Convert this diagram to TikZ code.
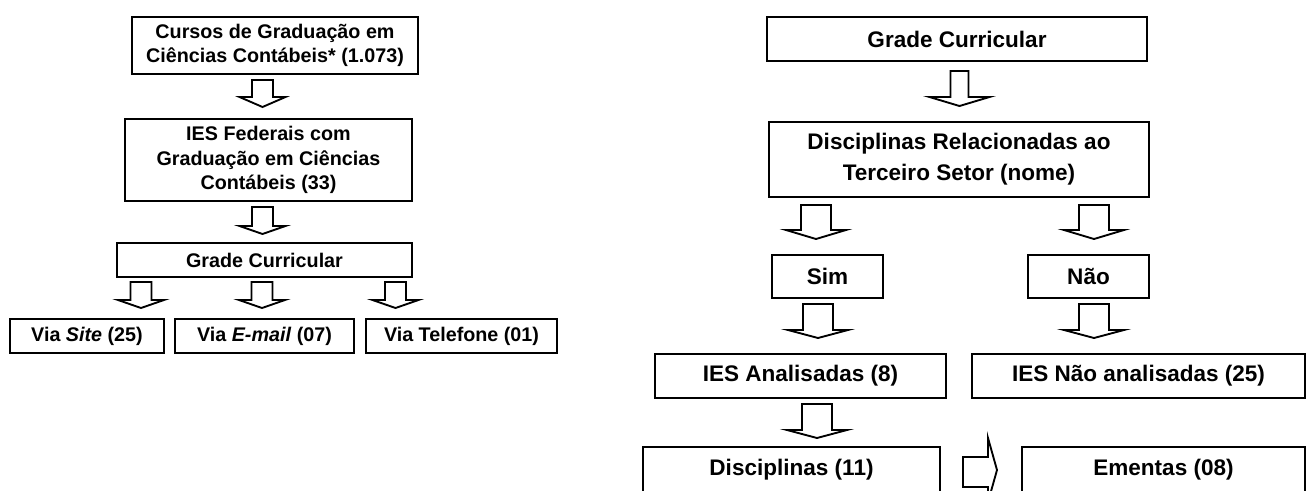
\documentclass[tikz,border=0pt]{standalone}
\usepackage{fontspec}
\setmainfont{Liberation Sans}
\newcommand\bx[7][box]{\node[#1,minimum width={(#5-#3)*0.75pt},minimum height={(#6-#4)*0.75pt}] (#2) at ({(#3+#5)/2},{(#4+#6)/2}) {#7};}
\newcommand\darr[6]{\draw[barrow] ({#1-#5},#2) -- ({#1+#5},#2) -- ({#1+#5},#3) -- ({#1+#6},#3) -- (#1,#4) -- ({#1-#6},#3) -- ({#1-#5},#3) -- cycle;}
\begin{document}
\begin{tikzpicture}[x=0.75pt,y=-0.75pt,
  box/.style={draw=black,line width=1.4pt,inner sep=0pt,align=center,font=\bfseries\fontsize{14.8}{18.5}\selectfont},
  rbox/.style={box,font=\bfseries\fontsize{16.9}{23}\selectfont},
  barrow/.style={draw=black,line width=1.4pt,fill=white,line join=miter}]
\clip (0,0) rectangle (1309,490);
\fill[white] (0,0) rectangle (1309,490);
% left diagram
\bx{A}{132}{17}{418}{74}{Cursos de Graduação em\\Ciências Contábeis* (1.073)}
\bx{B}{125}{119}{412}{201}{IES Federais com\\Graduação em Ciências\\Contábeis (33)}
\bx{C}{117}{243}{412}{277}{Grade Curricular}
\bx{V1}{10}{319}{164}{353}{Via \textit{Site} (25)}
\bx{V2}{175}{319}{354}{353}{Via \textit{E-mail} (07)}
\bx{V3}{366}{319}{557}{353}{Via Telefone (01)}
\darr{262.5}{80}{97}{107}{10.5}{23}
\darr{262.5}{207}{226}{234}{10.5}{23}
\darr{141}{282}{300}{308}{10.5}{23}
\darr{262}{282}{300}{308}{10.5}{23}
\darr{395.5}{282}{300}{308}{10.5}{23}
% right diagram
\bx[rbox]{D}{767}{17}{1147}{61}{Grade Curricular}
\bx[rbox]{E}{769}{122}{1149}{197}{Disciplinas Relacionadas ao\\Terceiro Setor (nome)}
\bx[rbox]{S}{772}{255}{883}{298}{Sim}
\bx[rbox]{N}{1028}{255}{1149}{298}{Não}
\bx[rbox]{F}{655}{354}{946}{398}{IES Analisadas (8)}
\bx[rbox]{G}{972}{354}{1305}{398}{IES Não analisadas (25)}
\bx[rbox]{H}{643}{447}{940}{492}{Disciplinas (11)}
\bx[rbox]{I}{1022}{447}{1305}{492}{Ementas (08)}
\darr{959.5}{71}{97}{106}{9}{30}
\darr{816}{205}{230}{239}{15}{30}
\darr{1094}{205}{230}{239}{15}{30}
\darr{818}{304}{330}{338}{15}{30}
\darr{1094}{304}{330}{338}{15}{30}
\darr{817}{404}{430}{438}{15}{30}
\draw[barrow] (963,457) -- (988,457) -- (988,438) -- (997,470) -- (988,502) -- (988,487) -- (963,487) -- cycle;
\end{tikzpicture}
\end{document}
